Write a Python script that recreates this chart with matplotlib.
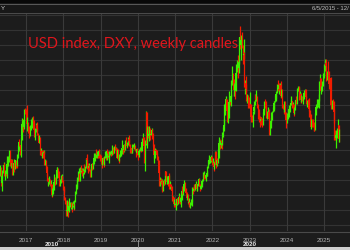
import matplotlib
matplotlib.use("Agg")
import matplotlib.pyplot as plt
import matplotlib.dates as mdates
from matplotlib.patches import Rectangle
import numpy as np
import pandas as pd

# Weekly US Dollar index (DXY) candles, Fridays, from 2016-04-22
closes_2016 = [95.1, 93.0, 93.9, 94.6, 95.3, 95.5, 94.0, 94.6, 94.2, 95.6,
               95.6, 96.3, 96.6, 97.4, 95.5, 96.2, 95.7, 94.5, 95.5, 95.8,
               95.1, 96.1, 95.5, 95.4, 96.6, 97.9, 98.7, 98.3, 97.0, 99.0,
               101.2, 101.5, 100.8, 101.7, 103.1, 102.9, 102.2]
highs_2016 = [95.5, 95.2, 94.0, 94.8, 95.5, 95.9, 95.8, 94.8, 95.1, 96.7,
              96.2, 96.7, 96.8, 97.6, 97.5, 96.3, 96.3, 95.8, 95.6, 96.3,
              95.9, 96.2, 96.1, 95.9, 97.0, 98.2, 98.8, 99.1, 98.3, 99.3,
              101.5, 102.0, 101.8, 101.8, 103.2, 103.4, 103.3]
lows_2016 = [94.0, 92.6, 91.9, 93.6, 94.3, 95.0, 93.9, 93.4, 94.0, 93.6,
             95.1, 95.4, 95.9, 96.5, 95.4, 95.0, 95.5, 94.1, 94.1, 95.4,
             94.5, 94.9, 95.0, 95.1, 95.4, 96.5, 97.4, 98.1, 96.8, 96.6,
             98.9, 100.6, 100.1, 100.5, 100.9, 102.6, 101.9]

closes_2017 = [101.2, 101.2, 100.7, 100.5, 99.8, 100.8, 100.9, 101.1, 101.5, 101.3,
               100.3, 99.7, 100.3, 101.1, 100.5, 99.8, 99.0, 98.6, 99.2, 97.1,
               97.4, 96.7, 97.2, 97.1, 97.3, 95.6, 96.0, 95.1, 94.3, 93.3,
               93.5, 93.1, 93.4, 92.8, 92.8, 91.3, 91.9, 92.2, 93.1, 93.6,
               93.0, 93.7, 94.8, 94.9, 94.4, 93.7, 92.8, 93.1, 93.9, 93.9,
               93.3, 92.1]
highs_2017 = [103.8, 102.1, 101.5, 100.9, 100.6, 101.0, 101.8, 101.5, 102.2, 102.3,
              101.7, 100.5, 100.6, 101.3, 101.4, 100.7, 99.9, 99.3, 99.7, 99.4,
              97.8, 97.5, 97.3, 97.6, 97.6, 97.4, 96.3, 96.2, 95.3, 94.3,
              93.7, 93.8, 93.9, 93.5, 93.4, 92.9, 92.3, 92.6, 93.4, 94.2,
              93.8, 93.9, 95.2, 95.2, 95.1, 94.6, 93.8, 93.5, 94.1, 94.2,
              94.0, 93.4]
lows_2017 = [101.0, 100.2, 99.9, 99.9, 99.2, 99.5, 100.3, 100.6, 100.9, 101.1,
             100.0, 99.3, 98.9, 100.0, 100.2, 99.6, 98.8, 98.5, 98.6, 96.8,
             96.9, 96.6, 96.5, 96.5, 97.0, 95.5, 95.5, 94.9, 93.9, 93.2,
             92.5, 92.9, 92.9, 92.6, 91.8, 91.0, 91.1, 91.5, 92.0, 93.0,
             92.7, 92.8, 93.6, 94.2, 94.2, 93.5, 92.5, 92.5, 93.0, 93.3,
             93.1, 92.0]

closes_2018 = [92.0, 90.9, 90.6, 89.1, 89.2, 90.3, 89.1, 89.8, 89.9, 90.1,
               90.2, 89.5, 90.1, 90.1, 89.8, 90.3, 91.6, 92.5, 92.5, 93.6,
               94.2, 94.2, 93.6, 94.8, 94.5, 94.5, 94.0, 94.7, 94.4, 94.7,
               95.2, 96.4, 96.1, 95.2, 95.1, 95.4, 94.9, 93.8, 95.1, 95.6,
               95.2, 95.7, 96.4, 96.5, 96.9, 96.5, 96.8, 97.3, 96.7, 97.4,
               96.9, 96.3]
highs_2018 = [92.6, 92.3, 91.0, 90.6, 89.4, 90.6, 90.5, 90.3, 90.9, 90.4,
              90.4, 90.3, 90.2, 90.5, 90.2, 90.6, 91.8, 92.8, 93.4, 93.8,
              94.6, 95.0, 94.3, 95.2, 95.5, 95.1, 94.9, 95.0, 95.6, 94.9,
              95.3, 96.5, 97.0, 96.2, 95.8, 95.7, 95.5, 94.9, 95.2, 95.8,
              95.7, 96.0, 96.7, 97.2, 97.1, 97.7, 97.2, 97.4, 97.4, 97.6,
              97.7, 97.0]
lows_2018 = [91.7, 90.6, 90.1, 88.4, 88.4, 89.1, 88.25, 88.9, 89.8, 89.6,
             89.4, 88.9, 89.3, 89.7, 89.2, 89.4, 90.3, 91.5, 92.2, 92.4,
             93.2, 93.9, 93.2, 93.3, 94.3, 94.2, 93.9, 93.7, 94.3, 94.2,
             94.5, 95.0, 95.8, 94.9, 94.4, 94.8, 94.7, 93.8, 93.8, 95.0,
             94.8, 94.9, 95.6, 96.0, 96.0, 96.4, 96.4, 96.6, 96.5, 96.6,
             96.5, 96.0]

closes_2019 = [95.7, 95.6, 96.4, 95.8, 95.6, 96.6, 96.9, 96.5, 97.4, 97.3,
               96.6, 96.7, 97.3, 97.4, 97.0, 97.4, 98.0, 97.5, 97.3, 98.0,
               97.6, 97.8, 96.5, 97.6, 96.2, 96.1, 96.8, 96.8, 97.2, 97.9,
               98.1, 97.5, 98.2, 97.6, 98.9, 98.4, 98.1, 98.5, 99.1, 98.8,
               98.3, 97.3, 97.8, 97.2, 98.3, 98.0, 98.3, 98.3, 97.7, 97.2,
               97.7, 96.9]
highs_2019 = [96.9, 96.0, 96.5, 96.6, 95.9, 96.7, 97.4, 97.0, 97.4, 97.7,
              97.4, 96.8, 97.4, 97.4, 97.4, 97.5, 98.3, 98.0, 97.7, 98.1,
              98.4, 98.0, 97.9, 97.6, 97.7, 96.4, 97.0, 97.6, 97.3, 97.9,
              98.9, 98.2, 98.4, 98.4, 99.0, 99.4, 98.6, 98.7, 99.4, 99.7,
              99.1, 98.4, 97.9, 97.9, 98.4, 98.4, 98.4, 98.5, 98.3, 97.7,
              97.7, 97.8]
lows_2019 = [95.6, 95.0, 95.5, 95.6, 95.2, 95.5, 96.5, 96.2, 96.1, 97.2,
             96.4, 95.8, 96.6, 96.8, 96.7, 96.8, 97.3, 97.0, 97.1, 97.2,
             97.5, 97.4, 96.5, 96.5, 96.1, 95.8, 96.0, 96.6, 96.7, 97.0,
             97.8, 97.0, 97.3, 97.4, 97.6, 98.2, 97.9, 98.0, 98.3, 98.6,
             98.1, 97.2, 97.2, 97.1, 97.1, 97.8, 97.7, 98.1, 97.4, 96.6,
             97.0, 96.8]

closes_2020 = [96.8, 97.4, 97.6, 97.9, 97.4, 98.7, 99.1, 99.3, 98.1, 95.9,
               98.7, 102.8, 98.4, 100.6, 99.5, 99.8, 100.4, 99.7, 99.8, 100.4,
               99.9, 98.3, 96.9, 97.3, 97.6, 97.4, 96.9, 96.7, 96.0, 94.4,
               93.3, 93.4, 93.1, 93.2, 92.4, 92.7, 93.3, 92.9, 94.6, 93.9,
               93.1, 93.7, 92.8, 94.0, 92.2, 92.8, 92.4, 91.8, 90.7, 91.0,
               90.0, 90.2]
highs_2020 = [97.0, 97.5, 97.7, 98.0, 98.2, 98.8, 99.2, 99.9, 99.4, 98.1,
              99.0, 103.0, 102.9, 100.9, 100.9, 100.3, 100.9, 100.6, 100.4, 100.6,
              100.5, 99.9, 98.4, 97.5, 97.9, 97.7, 97.5, 97.1, 96.7, 96.1,
              94.5, 93.8, 93.6, 93.5, 93.4, 93.0, 93.5, 93.4, 94.7, 94.7,
              94.0, 93.9, 93.8, 94.1, 94.3, 93.2, 92.8, 92.5, 91.9, 91.1,
              91.0, 90.8]
lows_2020 = [96.1, 96.6, 97.1, 97.4, 97.3, 97.4, 98.6, 99.0, 97.8, 95.7,
             94.6, 98.2, 98.3, 97.8, 99.2, 98.8, 99.6, 98.9, 99.6, 99.5,
             99.1, 98.1, 96.4, 95.7, 96.5, 97.0, 96.7, 96.2, 95.8, 94.4,
             92.5, 92.6, 92.8, 92.1, 91.7, 91.8, 92.7, 92.7, 92.9, 93.6,
             92.9, 92.9, 92.6, 92.7, 92.1, 92.1, 92.0, 91.7, 90.5, 90.4,
             89.7, 89.9]

closes_2021 = [89.9, 90.1, 90.8, 90.2, 90.6, 91.0, 90.5, 90.4, 90.9, 91.9,
               91.7, 91.9, 92.8, 93.0, 92.2, 91.6, 90.9, 91.3, 90.2, 90.3,
               90.0, 90.0, 90.1, 90.6, 92.3, 91.8, 92.2, 92.1, 92.7, 92.9,
               92.1, 92.8, 92.5, 93.5, 92.7, 92.1, 92.6, 93.2, 93.3, 94.0,
               94.1, 93.9, 93.6, 94.1, 94.3, 95.1, 96.0, 96.1, 96.1, 96.1,
               96.6, 96.0, 95.7]
highs_2021 = [90.4, 90.2, 90.9, 90.9, 90.9, 91.6, 91.1, 91.0, 91.4, 92.1,
              92.5, 92.3, 93.0, 93.4, 93.1, 92.3, 91.7, 91.4, 91.4, 90.9,
              90.4, 90.4, 90.7, 90.7, 92.4, 92.4, 92.7, 92.8, 92.8, 93.2,
              92.9, 92.9, 93.2, 93.7, 93.5, 92.8, 92.8, 93.3, 93.5, 94.5,
              94.6, 94.2, 93.9, 94.2, 94.6, 95.3, 96.2, 96.9, 96.4, 96.4,
              96.9, 96.7, 96.2]
lows_2021 = [89.7, 89.2, 89.9, 90.0, 90.0, 90.6, 90.2, 90.1, 89.7, 90.6,
             91.4, 91.3, 91.8, 92.7, 92.0, 91.5, 90.7, 90.6, 90.0, 89.8,
             89.6, 89.5, 89.9, 89.8, 90.4, 91.5, 91.8, 91.9, 92.0, 92.6,
             91.8, 91.9, 92.5, 92.5, 92.6, 91.9, 92.1, 92.4, 92.9, 93.3,
             93.8, 93.5, 93.5, 93.3, 93.9, 94.0, 95.0, 95.8, 95.6, 95.8,
             95.9, 95.9, 95.5]

closes_2022 = [95.7, 95.2, 95.6, 97.3, 95.5, 96.1, 96.0, 96.6, 98.6, 99.1,
               98.2, 98.8, 98.6, 99.8, 100.5, 101.1, 103.0, 103.7, 104.6, 103.0,
               101.7, 102.2, 104.2, 104.7, 104.2, 105.1, 107.0, 108.1, 106.7, 105.9,
               106.6, 105.7, 108.2, 108.8, 109.6, 109.0, 109.8, 113.2, 112.1, 112.8,
               113.3, 112.0, 110.8, 110.8, 106.3, 106.9, 106.0, 104.5, 104.8, 104.7,
               104.3, 103.5]
highs_2022 = [96.5, 96.0, 95.9, 97.4, 97.4, 96.1, 96.4, 97.7, 98.9, 99.4,
              99.1, 99.0, 99.4, 100.0, 100.8, 101.9, 103.9, 104.1, 105.0, 104.7,
              103.3, 102.7, 104.3, 105.8, 104.9, 105.3, 107.3, 109.3, 108.2, 107.4,
              106.9, 106.9, 108.3, 109.5, 110.0, 110.8, 110.2, 113.3, 114.8, 112.9,
              113.6, 113.9, 112.2, 113.0, 111.2, 107.3, 107.9, 106.7, 105.4, 105.2,
              104.9, 104.5]
lows_2022 = [95.6, 94.6, 94.9, 95.6, 95.1, 95.3, 95.6, 95.7, 96.5, 97.7,
             97.7, 97.8, 97.7, 98.3, 99.4, 100.2, 101.0, 102.4, 103.4, 102.7,
             101.4, 101.3, 102.0, 103.4, 103.8, 103.7, 104.9, 106.6, 106.4, 105.1,
             105.0, 104.6, 105.7, 107.6, 108.4, 107.6, 108.2, 109.5, 111.6, 110.1,
             112.2, 111.7, 109.5, 110.2, 106.3, 105.3, 105.6, 104.4, 104.1, 103.4,
             103.8, 103.4]

closes_2023 = [103.9, 102.2, 102.0, 101.9, 103.0, 103.6, 103.9, 105.2, 104.5, 104.6,
               103.8, 103.1, 102.5, 102.1, 101.6, 101.8, 101.7, 101.2, 102.7, 103.2,
               104.2, 104.0, 103.6, 102.3, 102.9, 102.9, 101.9, 99.9, 101.1, 101.6,
               102.0, 102.8, 103.4, 104.1, 104.2, 105.1, 105.3, 105.6, 106.2, 106.0,
               106.6, 106.2, 106.6, 105.0, 105.9, 103.9, 103.4, 103.3, 104.0, 102.6,
               101.7, 101.3]
highs_2023 = [105.6, 103.9, 102.6, 102.4, 103.0, 103.9, 104.4, 105.4, 105.4, 105.9,
              105.1, 103.9, 103.2, 102.9, 102.3, 102.2, 102.2, 102.0, 102.8, 103.6,
              104.3, 104.7, 104.4, 103.7, 103.0, 103.5, 103.3, 102.1, 101.4, 102.0,
              102.8, 103.0, 103.6, 104.4, 104.3, 105.2, 105.4, 105.8, 106.8, 107.3,
              106.8, 106.9, 106.9, 107.1, 106.0, 106.0, 104.0, 103.7, 104.3, 104.3,
              102.8, 101.9]
lows_2023 = [103.4, 101.8, 101.5, 101.5, 100.8, 102.6, 102.8, 103.8, 104.3, 104.4,
             103.4, 101.9, 101.9, 101.4, 100.8, 101.2, 101.0, 100.8, 101.0, 102.4,
             103.0, 103.4, 103.3, 102.0, 101.9, 102.5, 101.8, 99.6, 99.6, 100.6,
             101.4, 101.7, 102.8, 103.0, 103.3, 104.2, 104.4, 104.7, 105.5, 105.7,
             105.4, 105.9, 105.7, 104.8, 104.9, 103.4, 103.2, 102.5, 102.9, 102.2,
             101.6, 100.6]

closes_2024 = [102.4, 102.4, 103.3, 103.4, 103.9, 104.1, 104.3, 103.9, 103.9, 102.7,
               103.4, 104.4, 104.5, 104.3, 106.0, 106.1, 106.1, 105.1, 105.3, 104.5,
               104.7, 104.6, 104.9, 105.5, 105.8, 105.9, 104.9, 104.1, 104.4, 104.3,
               103.2, 103.1, 102.4, 100.7, 101.7, 101.2, 101.1, 100.7, 100.4, 102.5,
               103.5, 103.5, 104.3, 104.3, 104.5, 106.7, 107.5, 105.7, 106.1, 107.0,
               107.8, 108.0]
highs_2024 = [102.7, 102.8, 103.7, 103.8, 104.1, 104.6, 105.0, 104.4, 104.2, 104.0,
              103.5, 104.5, 104.7, 105.0, 106.2, 106.5, 106.3, 106.5, 105.7, 105.5,
              105.2, 105.0, 105.0, 105.7, 105.9, 106.1, 106.0, 105.1, 104.5, 104.6,
              104.8, 103.5, 103.1, 102.5, 101.8, 101.9, 101.8, 101.4, 101.0, 102.7,
              103.5, 104.0, 104.6, 104.6, 105.4, 107.1, 108.1, 107.5, 106.5, 107.1,
              108.3, 108.5]
lows_2024 = [101.3, 101.9, 102.1, 102.8, 102.8, 103.8, 103.9, 103.4, 103.6, 102.3,
             102.5, 103.1, 104.1, 103.9, 103.9, 105.7, 105.5, 104.5, 104.9, 104.1,
             104.2, 104.3, 103.9, 104.7, 105.0, 105.4, 104.8, 104.0, 103.6, 104.0,
             103.0, 102.2, 102.2, 100.6, 100.5, 100.8, 100.8, 100.2, 100.2, 100.4,
             102.4, 103.2, 103.4, 103.6, 103.4, 104.4, 106.1, 105.6, 105.4, 105.8,
             106.4, 107.6]

closes_2025 = [109.0, 109.7, 109.3, 107.4, 108.4, 108.1, 106.7, 106.6, 107.6, 103.8,
               103.7, 104.1, 104.0, 102.9, 100.1, 99.2, 99.6, 100.0, 100.4, 101.1,
               99.1, 99.4]
highs_2025 = [109.5, 110.2, 110.2, 109.3, 108.6, 109.9, 108.5, 107.0, 107.6, 107.7,
              104.2, 104.5, 104.7, 104.4, 103.3, 100.4, 100.0, 100.4, 100.6, 101.9,
              101.1, 100.5]
lows_2025 = [107.8, 108.5, 108.6, 107.2, 107.3, 107.7, 106.6, 106.1, 106.3, 103.7,
             103.2, 103.2, 103.9, 101.3, 99.0, 99.0, 97.9, 98.9, 99.2, 100.2,
             98.7, 98.7]

first_week = "2016-04-22"
first_open = 94.6

year_labels = ["2017", "2018", "2019", "2020", "2021", "2022", "2023", "2024", "2025"]
decade_labels = ["2010", "2020"]
title_text = "USD index, DXY, weekly candles"
header_left = "Y"
header_right = "6/5/2015 - 12/"

closes = np.array(closes_2016 + closes_2017 + closes_2018 + closes_2019 + closes_2020 +
                  closes_2021 + closes_2022 + closes_2023 + closes_2024 + closes_2025)
highs = np.array(highs_2016 + highs_2017 + highs_2018 + highs_2019 + highs_2020 +
                 highs_2021 + highs_2022 + highs_2023 + highs_2024 + highs_2025)
lows = np.array(lows_2016 + lows_2017 + lows_2018 + lows_2019 + lows_2020 +
                lows_2021 + lows_2022 + lows_2023 + lows_2024 + lows_2025)
opens = np.concatenate([[first_open], closes[:-1]])
dates = pd.date_range(first_week, periods=len(closes), freq="7D")
x = mdates.date2num(dates)

W, H = 350, 250
fig = plt.figure(figsize=(3.5, 2.5), dpi=100, facecolor="#1c1c1c")

def fy(py):
    return 1 - py / H

# plot area: x 0..350, y 13..231 px
ax = fig.add_axes([0, fy(231), 1, fy(13) - fy(231)])
ax.set_facecolor("#1c1c1c")
for s in ax.spines.values():
    s.set_visible(False)
ax.set_xlim(mdates.datestr2num("2016-04-20"), mdates.datestr2num("2025-09-12"))
ax.set_ylim(86.3, 116.6)
ax.set_xticks([])
ax.set_yticks([])

# horizontal grid (every 15 px)
for py in np.arange(14.5, 230, 15):
    f = (231 - py) / 218
    ax.plot([0, 1], [f, f], transform=ax.transAxes, color="#333333", lw=0.8, zorder=0)
# vertical grid at years
for lab in year_labels:
    xv = mdates.datestr2num(lab + "-01-01")
    ax.axvline(xv, color="#3a3a3a", lw=0.8, zorder=0)
    ax.text(xv, -0.03, lab, transform=ax.get_xaxis_transform(), ha="center", va="top",
            fontsize=4.6, color="#b4b4b4", family="Liberation Sans")

up = closes >= opens
green, red = "#3cf000", "#f01c00"
cols = np.where(up, green, red)
ax.vlines(x, lows, highs, colors=cols, lw=0.9, zorder=3)
bottoms = np.minimum(opens, closes)
heights = np.maximum(np.abs(closes - opens), 0.1)
ax.bar(x, heights, bottom=bottoms, width=6.5, color=cols, linewidth=0, zorder=4)

ax.text(28 / W, fy(44.5), title_text, transform=fig.transFigure, color="#e0161c",
        fontsize=10.5, family="Lato", va="center", ha="left")

# bottom axis line
fig.add_artist(plt.Line2D([0, 1], [fy(231.5), fy(231.5)], color="#4a4a4a", lw=0.8))
# decade labels
fig.text(52 / W, fy(244), decade_labels[0], ha="center", va="center", fontsize=4.6,
         color="#e8e8e8", weight="bold", family="Liberation Sans")
fig.text(250 / W, fy(244), decade_labels[1], ha="center", va="center", fontsize=4.6,
         color="#e8e8e8", weight="bold", family="Liberation Sans")
fig.add_artist(plt.Line2D([138 / W, 138 / W], [fy(240), fy(247)], color="#9a9a9a", lw=0.6))
# bottom light strip
fig.add_artist(Rectangle((0, 0), 1, 3.5 / H, transform=fig.transFigure, color="#cfcfcf", lw=0))

# top strips
fig.add_artist(Rectangle((0, fy(3.5)), 1, 3.5 / H, transform=fig.transFigure, color="#080808", lw=0))
fig.add_artist(Rectangle((0, fy(13)), 1, 9.5 / H, transform=fig.transFigure, color="#181818", lw=0))
fig.add_artist(plt.Line2D([0, 1], [fy(3.8), fy(3.8)], color="#5a5a5a", lw=0.7))
fig.add_artist(plt.Line2D([0, 1], [fy(13), fy(13)], color="#4c4c4c", lw=0.7))
fig.text(1 / W, fy(8.5), header_left, ha="left", va="center", fontsize=4.3,
         color="#cfcfcf", family="Liberation Sans")
fig.text(349 / W, fy(8.5), header_right, ha="right", va="center", fontsize=4.3,
         color="#bdbdbd", family="Liberation Sans")

fig.savefig("out.png", dpi=100, facecolor=fig.get_facecolor())
